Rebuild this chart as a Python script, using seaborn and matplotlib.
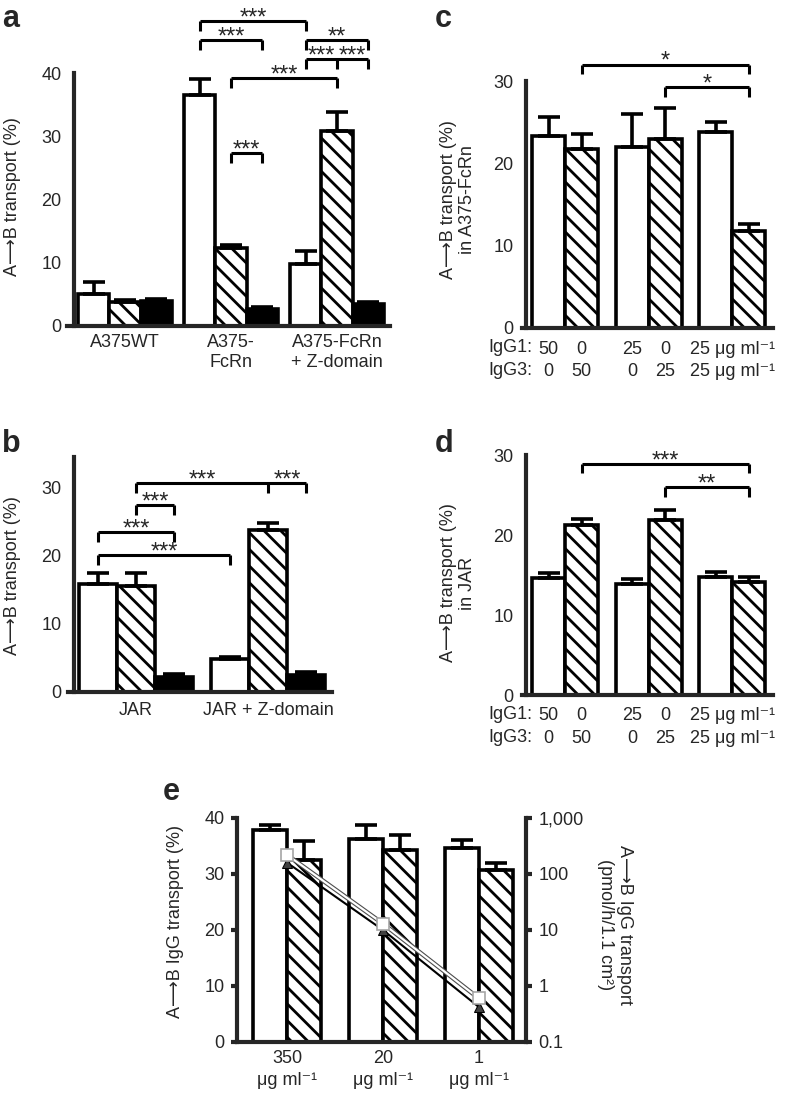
import numpy as np
import pandas as pd
import matplotlib
matplotlib.use('Agg')
import matplotlib.pyplot as plt
import matplotlib.transforms as mtransforms
import seaborn as sns

# ---- data ----
# panel a: A375 cells
a_cells = ['A375WT', 'A375-\nFcRn', 'A375-FcRn\n+ Z-domain']
a_conds = ['open', 'hatched', 'filled']
a_mean = [[5.0, 3.8, 3.9], [36.5, 12.3, 2.7], [9.8, 30.8, 3.4]]
a_sem = [[2.0, 0.3, 0.4], [2.5, 0.5, 0.3], [2.1, 3.1, 0.4]]

# panel b: JAR cells
b_cells = ['JAR', 'JAR + Z-domain']
b_conds = ['open', 'hatched', 'filled']
b_mean = [[15.8, 15.5, 2.2], [4.8, 23.8, 2.5]]
b_sem = [[1.6, 1.9, 0.4], [0.4, 1.0, 0.4]]

# panels c, d: IgG1 (open) / IgG3 (hatched) given alone or mixed
cd_groups = ['50 alone', '25 alone', '25 + 25']
cd_subclass = ['IgG1', 'IgG3']
igg1_dose = ['50', '0', '25', '0', '25 μg ml⁻¹']
igg3_dose = ['0', '50', '0', '25', '25 μg ml⁻¹']
c_mean = [[23.3, 21.7], [22.0, 22.9], [23.8, 11.8]]
c_sem = [[2.3, 1.9], [4.0, 3.8], [1.2, 0.8]]
d_mean = [[14.6, 21.2], [13.9, 21.9], [14.8, 14.1]]
d_sem = [[0.6, 0.8], [0.6, 1.2], [0.6, 0.7]]

# panel e: IgG dose series
e_conc = ['350\nμg ml⁻¹', '20\nμg ml⁻¹', '1\nμg ml⁻¹']
e_conds = ['open', 'hatched']
e_mean = [[37.9, 32.5], [36.2, 34.3], [34.6, 30.8]]
e_sem = [[0.8, 3.4], [2.6, 2.6], [1.5, 1.1]]
e_pmol_open = [220, 13, 0.6]
e_pmol_hatch = [160, 10, 0.42]
e_right_ticks = [0.1, 1, 10, 100, 1000]
e_right_labels = ['0.1', '1', '10', '100', '1,000']

# significance brackets: (bars (group, hue), height, labels)
a_sig = [([(1, 0), (2, 0)], 48.2, ['***']),
         ([(1, 0), (1, 2)], 45.2, ['***']),
         ([(2, 0), (2, 2)], 45.2, ['**']),
         ([(2, 0), (2, 1), (2, 2)], 42.2, ['***', '***']),
         ([(1, 1), (2, 1)], 39.2, ['***']),
         ([(1, 1), (1, 2)], 27.3, ['***'])]
b_sig = [([(0, 1), (1, 1), (1, 2)], 30.7, ['***', '***']),
         ([(0, 1), (0, 2)], 27.5, ['***']),
         ([(0, 0), (0, 2)], 23.5, ['***']),
         ([(0, 0), (1, 0)], 20.1, ['***'])]
c_sig = [([(0, 1), (2, 1)], 32.0, ['*']),
         ([(1, 1), (2, 1)], 29.3, ['*'])]
d_sig = [([(0, 1), (2, 1)], 28.9, ['***']),
         ([(1, 1), (2, 1)], 26.0, ['**'])]

ARROW = 'A⟶B'

# ---- style ----
sns.set_style('white')
plt.rcParams['font.family'] = ['Liberation Sans', 'DejaVu Sans']
plt.rcParams['hatch.linewidth'] = 2.0
plt.rcParams['font.size'] = 13

W, H = 788, 1095
fig = plt.figure(figsize=(W / 100, H / 100), dpi=100)
fig.patch.set_facecolor('white')


def px_axes(left, top, right, bottom):
    return fig.add_axes([left / W, 1 - bottom / H, (right - left) / W, (bottom - top) / H])


def draw_bars(ax, cats, conds, means, sems, width, palette, hatched):
    rows = []
    for g, cat in enumerate(cats):
        for h, cond in enumerate(conds):
            rows.append({'cat': cat, 'cond': cond, 'val': means[g][h]})
    df = pd.DataFrame(rows)
    sns.barplot(data=df, x='cat', y='val', hue='cond', order=cats, hue_order=conds,
                palette=palette, width=width, saturation=1, edgecolor='black',
                linewidth=2.6, errorbar=None, legend=False, ax=ax)
    centers = {}
    xs, ys, es = [], [], []
    for h, cont in enumerate(ax.containers):
        for g, p in enumerate(cont.patches):
            if conds[h] in hatched:
                p.set_hatch('\\\\')
            x = p.get_x() + p.get_width() / 2
            centers[(g, h)] = x
            xs.append(x)
            ys.append(means[g][h])
            es.append(sems[g][h])
    ax.errorbar(xs, ys, yerr=[np.zeros(len(es)), es], fmt='none', ecolor='black',
                elinewidth=2.6, capsize=8, capthick=2.6, zorder=3)
    return centers


def bracket(ax, centers, bars, y, labels, leg):
    xs = [centers[b] for b in bars]
    kw = dict(color='black', lw=2.2, clip_on=False, solid_capstyle='butt')
    ax.plot([xs[0], xs[-1]], [y, y], **kw)
    for x in xs:
        ax.plot([x, x], [y - leg, y], **kw)
    for i, lab in enumerate(labels):
        xm = (xs[i] + xs[i + 1]) / 2
        ax.annotate(lab, (xm, y), xytext=(0, -2.5), textcoords='offset points',
                    ha='center', va='baseline', fontsize=17, annotation_clip=False)


def style_axis(ax, spine_frac, xticks_len=0, pad=6):
    for s in ['top', 'right']:
        ax.spines[s].set_visible(False)
    ax.spines['left'].set_linewidth(3)
    ax.spines['bottom'].set_linewidth(3)
    ax.spines['left'].set_position(('axes', spine_frac))
    ax.tick_params(axis='y', direction='out', length=4, width=3, pad=5, labelsize=13)
    ax.tick_params(axis='x', direction='out', length=xticks_len, width=3, pad=pad, labelsize=13)
    ax.set_xlabel('')


def set_ylabel_px(ax, text, x, y):
    ax.set_ylabel(text, fontsize=13, ha='center', va='center', rotation_mode='default',
                  linespacing=1.15)
    ax.yaxis.set_label_coords(x / W, 1 - y / H, transform=fig.transFigure)


# ---- panel a ----
ax_a = px_axes(67, 73, 390, 326)
cen_a = draw_bars(ax_a, a_cells, a_conds, a_mean, a_sem, 0.88,
                  ['white', 'white', 'black'], ['hatched'])
ax_a.set_ylim(0, 40)
ax_a.set_xlim(-0.547, 2.5)
ax_a.set_yticks([0, 10, 20, 30, 40])
style_axis(ax_a, 0.022, pad=6)
set_ylabel_px(ax_a, f'{ARROW} transport (%)', 13, 197)
for bars, y, labs in a_sig:
    bracket(ax_a, cen_a, bars, y, labs, 1.5)

# ---- panel b ----
ax_b = px_axes(68, 457, 332, 692)
cen_b = draw_bars(ax_b, b_cells, b_conds, b_mean, b_sem, 0.86,
                  ['white', 'white', 'black'], ['hatched'])
ax_b.set_ylim(0, 34.5)
ax_b.set_xlim(-0.515, 1.485)
ax_b.set_yticks([0, 10, 20, 30])
style_axis(ax_b, 0.023, pad=7)
set_ylabel_px(ax_b, f'{ARROW} transport (%)', 13, 576)
for bars, y, labs in b_sig:
    bracket(ax_b, cen_b, bars, y, labs, 1.45)


# ---- panels c and d ----
def dose_panel(ax, means, sems, sig, leg, ylabel, ylab_y):
    cen = draw_bars(ax, cd_groups, cd_subclass, means, sems, 0.79,
                    ['white', 'white'], ['IgG3'])
    ax.set_ylim(0, 30)
    ax.set_xlim(-0.515, 2.49)
    ax.set_yticks([0, 10, 20, 30])
    style_axis(ax, 0.016, xticks_len=4, pad=5)
    ticks = [cen[(0, 0)], cen[(0, 1)], cen[(1, 0)], cen[(1, 1)],
             (cen[(2, 0)] + cen[(2, 1)]) / 2]
    ax.set_xticks(ticks)
    ax.set_xticklabels([f'{a}\n{b}' for a, b in zip(igg1_dose, igg3_dose)], linespacing=1.45)
    off = mtransforms.offset_copy(ax.transAxes, fig=fig, y=-(3 + 5), units='points')
    ax.text(0.04, 0, 'IgG1:\nIgG3:', transform=off, ha='right', va='top',
            fontsize=13, linespacing=1.45)
    set_ylabel_px(ax, ylabel, 458, ylab_y)
    for bars, y, labs in sig:
        bracket(ax, cen, bars, y, labs, leg)


ax_c = px_axes(522, 81, 773, 328)
dose_panel(ax_c, c_mean, c_sem, c_sig, 1.2, f'{ARROW} transport (%)\nin A375-FcRn', 200)
ax_d = px_axes(522, 455, 773, 695)
dose_panel(ax_d, d_mean, d_sem, d_sig, 1.2, f'{ARROW} transport (%)\nin JAR', 583)

# ---- panel e ----
ax_e = px_axes(237, 818, 526, 1042)
cen_e = draw_bars(ax_e, e_conc, e_conds, e_mean, e_sem, 0.7,
                  ['white', 'white'], ['hatched'])
ax_e.set_ylim(0, 40)
ax_e.set_xlim(-0.52, 2.49)
ax_e.set_yticks([0, 10, 20, 30, 40])
style_axis(ax_e, 0.0, pad=6)
ax_e.tick_params(axis='x', labelsize=13)
for t in ax_e.get_xticklabels():
    t.set_linespacing(1.35)
set_ylabel_px(ax_e, f'{ARROW} IgG transport (%)', 175, 922)

ax_e2 = ax_e.twinx()
ax_e2.set_yscale('log')
ax_e2.set_ylim(0.1, 1000)
ax_e2.set_yticks(e_right_ticks)
ax_e2.set_yticklabels(e_right_labels)
ax_e2.yaxis.set_minor_locator(matplotlib.ticker.NullLocator())
for s in ['top', 'left', 'bottom']:
    ax_e2.spines[s].set_visible(False)
ax_e2.spines['right'].set_linewidth(3)
ax_e2.tick_params(axis='y', direction='out', length=4, width=3, pad=5, labelsize=13)
pos = np.arange(len(e_conc))
sns.lineplot(x=pos, y=e_pmol_hatch, ax=ax_e2, color='black', lw=1.5, marker='^',
             markersize=7, markerfacecolor='0.25', markeredgecolor='black', legend=False)
# open series: outlined white line with light square markers
sns.lineplot(x=pos, y=e_pmol_open, ax=ax_e2, color='0.3', lw=3.2, legend=False)
sns.lineplot(x=pos, y=e_pmol_open, ax=ax_e2, color='white', lw=1.6, marker='s',
             markersize=8, markerfacecolor='white', markeredgecolor='0.65',
             markeredgewidth=1.2, legend=False)
ax_e2.set_ylabel('')
fig.text(615 / W, 1 - 925 / H, f'{ARROW} IgG transport\n(pmol/h/1.1 cm²)', rotation=270,
         ha='center', va='center', fontsize=13, linespacing=1.15)

# ---- panel letters ----
for lab, x, y in [('a', 2, 27), ('b', 2, 452), ('c', 435, 27), ('d', 435, 452), ('e', 163, 800)]:
    fig.text(x / W, 1 - y / H, lab, fontsize=22, fontweight='bold', va='baseline', ha='left')

fig.savefig('out.png', dpi=100, facecolor='white')
